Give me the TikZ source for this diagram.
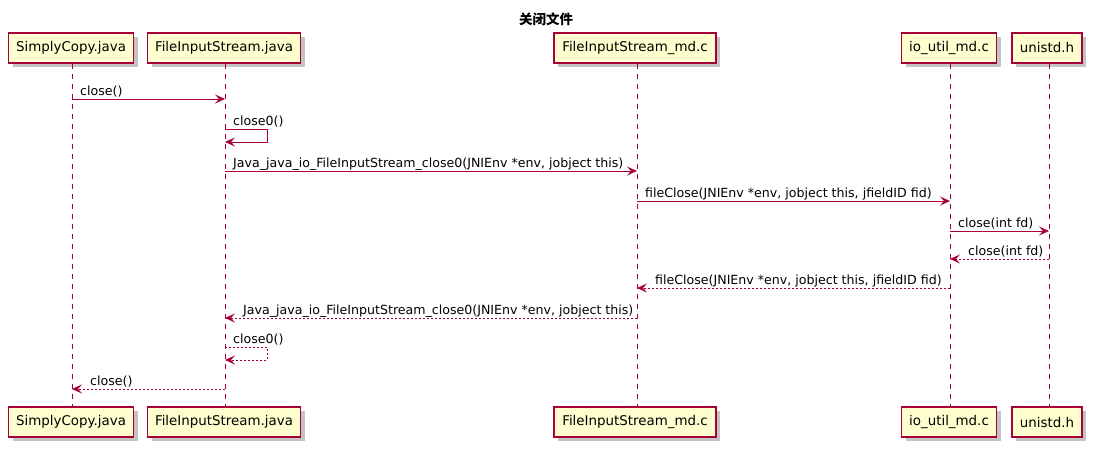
\documentclass[tikz,border=0pt]{standalone}
\usepackage{fontspec}
\setmainfont{DejaVu Sans}
\newfontfamily\cjk{Noto Sans CJK SC}
\usetikzlibrary{arrows.meta}
\definecolor{pborder}{HTML}{A80036}
\definecolor{pfill}{HTML}{FEFECE}
\definecolor{pshadow}{HTML}{C4C4C4}
\tikzset{
  participant/.style={draw=pborder, fill=pfill, line width=1.1pt, minimum height=30pt, inner sep=0pt,
    font=\fontsize{13.4}{15}\selectfont, text=black},
  pshadowbox/.style={fill=pshadow, draw=none, minimum height=30pt, inner sep=0pt},
  lifeline/.style={draw=pborder, line width=1pt, dash pattern=on 5pt off 5pt},
  msg/.style={draw=pborder, line width=0.9pt, -{Stealth[length=10pt, width=9pt, inset=4pt]}},
  ret/.style={msg, dash pattern=on 2pt off 2pt},
  mlabel/.style={font=\fontsize{12.6}{14}\selectfont, inner sep=0pt, anchor=base west, text=black},
}
\begin{document}
\begin{tikzpicture}[x=1pt, y=-1pt]
\useasboundingbox (0,0) rectangle (1093,448);
\node[font=\cjk\bfseries\fontsize{13.5}{15}\selectfont] (title) at (546,19) {关闭文件};
% shadows
\foreach \x/\w in {71/125, 224/153, 635/162, 949/95, 1047/70}{
  \node[pshadowbox, minimum width=\w pt] at (\x+4,52) {};
  \node[pshadowbox, minimum width=\w pt] at (\x+4,426) {};
}
\node[participant, minimum width=125pt] (sc) at (71,48) {SimplyCopy.java};
\node[participant, minimum width=153pt] (fis) at (224,48) {FileInputStream.java};
\node[participant, minimum width=162pt] (md) at (635,48) {FileInputStream\_md.c};
\node[participant, minimum width=95pt] (io) at (949,48) {io\_util\_md.c};
\node[participant, minimum width=70pt] (un) at (1047,48) {unistd.h};
\node[participant, minimum width=125pt] (sc2) at (71,422) {SimplyCopy.java};
\node[participant, minimum width=153pt] (fis2) at (224,422) {FileInputStream.java};
\node[participant, minimum width=162pt] (md2) at (635,422) {FileInputStream\_md.c};
\node[participant, minimum width=95pt] (io2) at (949,422) {io\_util\_md.c};
\node[participant, minimum width=70pt] (un2) at (1047,422) {unistd.h};
% lifelines
\draw[lifeline] ([xshift=1pt]sc.south) -- ([xshift=1pt]sc2.north);
\draw[lifeline] ([xshift=1pt]fis.south) -- ([xshift=1pt]fis2.north);
\draw[lifeline] ([xshift=2pt]md.south) -- ([xshift=2pt]md2.north);
\draw[lifeline] ([xshift=1pt]io.south) -- ([xshift=1pt]io2.north);
\draw[lifeline] ([xshift=2pt]un.south) -- ([xshift=2pt]un2.north);
% lifeline x coordinates
\coordinate (lsc) at ([xshift=1pt]sc.south);
\coordinate (lfis) at ([xshift=1pt]fis.south);
\coordinate (lmd) at ([xshift=2pt]md.south);
\coordinate (lio) at ([xshift=1pt]io.south);
\coordinate (lun) at ([xshift=2pt]un.south);
% messages
\draw[msg] (lsc |- 0,99) -- (lfis |- 0,99);
\node[mlabel] (l1) at ([xshift=8pt]lsc |- 0,95) {close()};
\draw[msg] (lfis |- 0,129) -- ++(42,0) -- ++(0,13) -- (lfis |- 0,142);
\node[mlabel] (l2) at ([xshift=8pt]lfis |- 0,125) {close0()};
\draw[msg] (lfis |- 0,171) -- (lmd |- 0,171);
\node[mlabel] (l3) at ([xshift=8pt]lfis |- 0,167) {Java\_java\_io\_FileInputStream\_close0(JNIEnv *env, jobject this)};
\draw[msg] (lmd |- 0,201) -- (lio |- 0,201);
\node[mlabel] (l4) at ([xshift=8pt]lmd |- 0,197) {fileClose(JNIEnv *env, jobject this, jfieldID fid)};
\draw[msg] (lio |- 0,231) -- (lun |- 0,231);
\node[mlabel] (l5) at ([xshift=8pt]lio |- 0,227) {close(int fd)};
\draw[ret] (lun |- 0,259) -- (lio |- 0,259);
\node[mlabel] (l6) at ([xshift=18pt]lio |- 0,255) {close(int fd)};
\draw[ret] (lio |- 0,288) -- (lmd |- 0,288);
\node[mlabel] (l7) at ([xshift=18pt]lmd |- 0,284) {fileClose(JNIEnv *env, jobject this, jfieldID fid)};
\draw[ret] (lmd |- 0,318) -- (lfis |- 0,318);
\node[mlabel] (l8) at ([xshift=18pt]lfis |- 0,314) {Java\_java\_io\_FileInputStream\_close0(JNIEnv *env, jobject this)};
\draw[ret] (lfis |- 0,347) -- ++(42,0) -- ++(0,13) -- (lfis |- 0,360);
\node[mlabel] (l9) at ([xshift=8pt]lfis |- 0,343) {close0()};
\draw[ret] (lfis |- 0,389) -- (lsc |- 0,389);
\node[mlabel] (l10) at ([xshift=18pt]lsc |- 0,385) {close()};
\end{tikzpicture}
\end{document}
